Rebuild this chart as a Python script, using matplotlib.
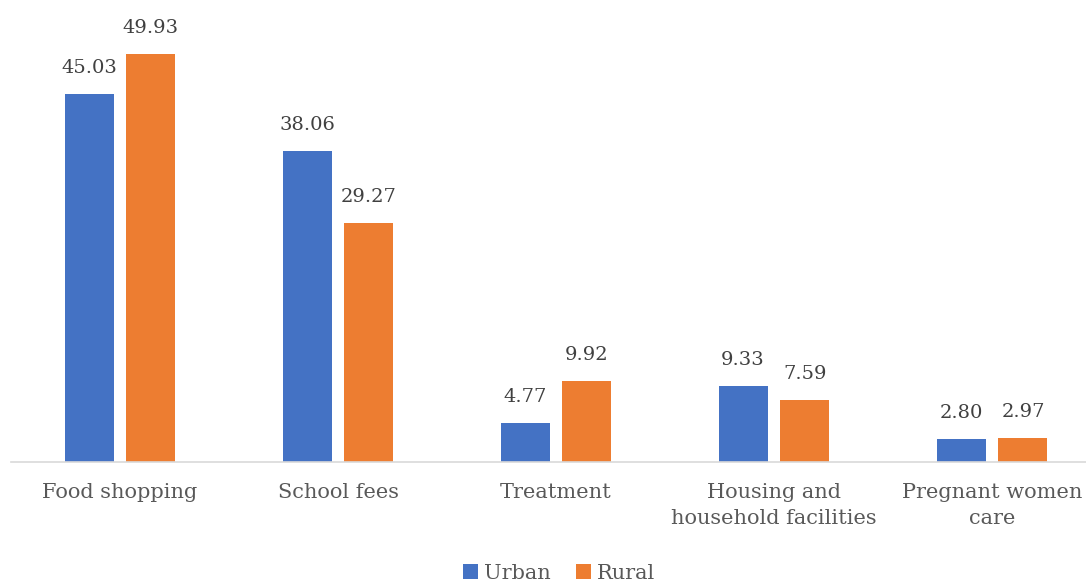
import matplotlib.pyplot as plt
import numpy as np

categories = ['Food shopping', 'School fees', 'Treatment',
              'Housing and\nhousehold facilities', 'Pregnant women\ncare']
urban = [45.03, 38.06, 4.77, 9.33, 2.80]
rural = [49.93, 29.27, 9.92, 7.59, 2.97]

plt.rcParams['font.family'] = 'DejaVu Serif'
text_color = '#595959'

fig = plt.figure(figsize=(10.86, 5.86), dpi=100)
# axes stretch a little past the right edge, like the source image
ax = fig.add_axes([11 / 1086, 124 / 586, 1090 / 1086, 462 / 586])

x = np.arange(len(categories))
w = 0.225
off = 0.142
b1 = ax.bar(x - off, urban, w, color='#4472C4', label='Urban')
b2 = ax.bar(x + off, rural, w, color='#ED7D31', label='Rural')

for bars, vals in [(b1, urban), (b2, rural)]:
    for b, v in zip(bars, vals):
        ax.annotate(f'{v:.2f}', (b.get_x() + b.get_width() / 2, v),
                    xytext=(0, 12), textcoords='offset points',
                    ha='center', va='bottom', fontsize=14, color='#404040')

ax.set_xlim(-0.5, 4.5)
ax.set_ylim(0, 56.5)
ax.set_xticks(x)
ax.set_xticklabels(categories, fontsize=15, color=text_color, linespacing=1.45)
ax.tick_params(axis='x', length=0, pad=15)
ax.set_yticks([])
for s in ['top', 'right', 'left']:
    ax.spines[s].set_visible(False)
ax.spines['bottom'].set_color('#d9d9d9')
ax.spines['bottom'].set_linewidth(1.2)

fig.legend(loc='center', bbox_to_anchor=(0.515, 0.022), ncol=2, frameon=False,
           handlelength=0.7, handleheight=0.7, handletextpad=0.3,
           columnspacing=1.2, fontsize=15, labelcolor=text_color)

fig.savefig('out.png', dpi=100)
